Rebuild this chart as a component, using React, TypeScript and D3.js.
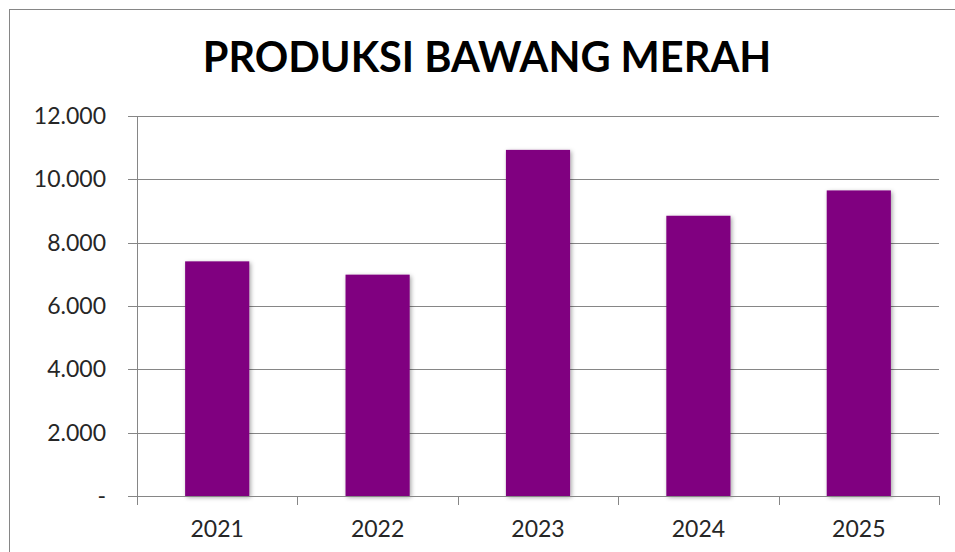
import React from 'react';
import * as d3 from 'd3';

// Produksi per tahun
const years = ['2021', '2022', '2023', '2024', '2025'];
const produksi = [7410, 6990, 10930, 8850, 9650];
const yTicks = [0, 2000, 4000, 6000, 8000, 10000, 12000];
const title = 'PRODUKSI BAWANG MERAH';

const W = 955;
const H = 552;
const plot = { left: 137, right: 939, top: 116, bottom: 496 };

const idLocale = d3.formatLocale({
  decimal: ',',
  thousands: '.',
  grouping: [3],
  currency: ['', ''],
});
const fmt = (v: number) => (v === 0 ? '-' : idLocale.format(',')(v));

const FONT = 'Lato, "Open Sans", sans-serif';

export default function App() {
  const x = d3.scaleBand<string>()
    .domain(years)
    .range([plot.left, plot.right])
    .paddingInner(0.6)
    .paddingOuter(0.3);

  const y = d3.scaleLinear()
    .domain([0, 12000])
    .range([plot.bottom, plot.top]);

  const step = x.step();
  const boundaries = d3.range(years.length + 1).map(i => plot.left + i * step);

  return (
    <svg
      width={W}
      height={H}
      style={{ position: 'absolute', left: 0, top: 0, background: '#fff' }}
    >
      <defs>
        <filter id='barShadow' x='-20%' y='-5%' width='140%' height='110%'>
          <feDropShadow dx='1.5' dy='1.5' stdDeviation='2' floodColor='#000' floodOpacity='0.35' />
        </filter>
      </defs>

      {/* chart border */}
      <rect x={9.5} y={9.5} width={980} height={580} fill='#fff' stroke='#868686' strokeWidth={1} />

      <text
        x={487}
        y={72}
        textAnchor='middle'
        fontFamily={FONT}
        fontWeight='bold'
        fontSize={41.5}
        fill='#000'
      >
        {title}
      </text>

      {/* gridlines + y ticks */}
      {yTicks.map(t => (
        <g key={t}>
          <line
            x1={plot.left - 9}
            x2={plot.right}
            y1={Math.round(y(t)) + 0.5}
            y2={Math.round(y(t)) + 0.5}
            stroke='#868686'
            strokeWidth={1}
          />
          <text
            x={106}
            y={y(t)}
            dy='0.35em'
            textAnchor='end'
            fontFamily={FONT}
            fontSize={23}
            fill='#262626'
          >
            {fmt(t)}
          </text>
        </g>
      ))}

      {/* y axis line */}
      <line
        x1={plot.left + 0.5}
        x2={plot.left + 0.5}
        y1={plot.top}
        y2={plot.bottom}
        stroke='#868686'
      />

      {/* bars */}
      {years.map((yr, i) => (
        <rect
          key={yr}
          x={x(yr)}
          y={y(produksi[i])}
          width={x.bandwidth()}
          height={y(0) - y(produksi[i])}
          fill='#800080'
          filter='url(#barShadow)'
        />
      ))}

      {/* x axis baseline again over shadows */}
      <line
        x1={plot.left}
        x2={plot.right}
        y1={Math.round(y(0)) + 0.5}
        y2={Math.round(y(0)) + 0.5}
        stroke='#868686'
      />

      {/* category ticks */}
      {boundaries.map((bx, i) => (
        <line
          key={i}
          x1={Math.round(bx) + 0.5}
          x2={Math.round(bx) + 0.5}
          y1={plot.bottom}
          y2={plot.bottom + 9}
          stroke='#868686'
        />
      ))}

      {/* x labels */}
      {years.map(yr => (
        <text
          key={yr}
          x={(x(yr) ?? 0) + x.bandwidth() / 2}
          y={537}
          textAnchor='middle'
          fontFamily={FONT}
          fontSize={23}
          fill='#262626'
        >
          {yr}
        </text>
      ))}
    </svg>
  );
}
